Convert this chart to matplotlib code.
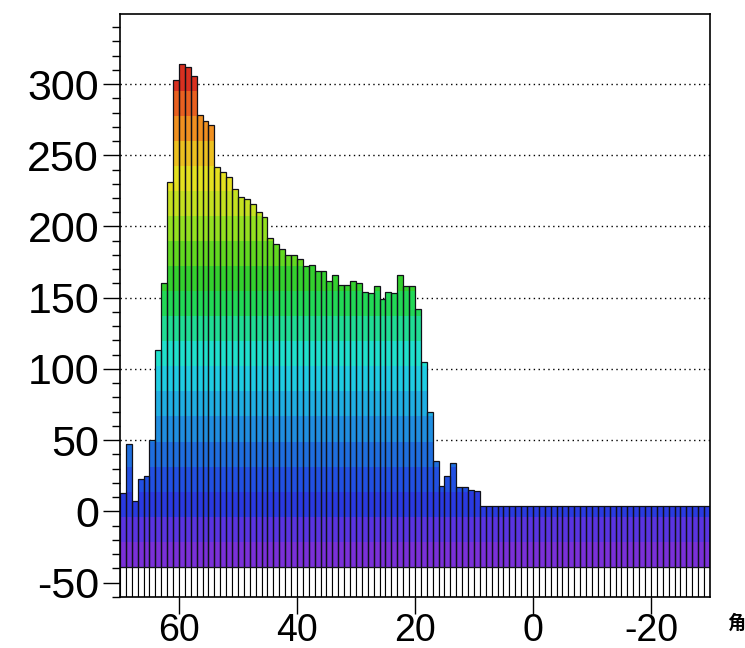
import matplotlib
matplotlib.use("Agg")
import matplotlib.pyplot as plt
import numpy as np

# bin contents, first bin is 69..70, last is -30..-29
counts = [13, 47, 7, 23, 25, 50, 113, 160, 231, 303,
          314, 312, 306, 278, 274, 271, 242, 238, 235, 226,
          221, 219, 216, 210, 207, 192, 188, 184, 180, 180,
          177, 172, 173, 169, 169, 162, 166, 159, 159, 162,
          160, 154, 153, 158, 149, 154, 153, 166, 158, 158,
          142, 105, 70, 35, 18, 25, 34, 17, 17, 15,
          14, 4, 4, 4, 4, 4, 4, 4, 4, 4,
          4, 4, 4, 4, 4, 4, 4, 4, 4, 4,
          4, 4, 4, 4, 4, 4, 4, 4, 4, 4,
          4, 4, 4, 4, 4, 4, 4, 4, 4, 4]
x_low, x_high = -30, 70
base = -39.0
level_step = 17.6
band_colors = ['#7a30d8', '#5a34e0', '#2a3ae0', '#2250e2', '#1f6ede',
               '#208ee0', '#20aee2', '#20cce2', '#20e0cc', '#20dc94',
               '#22d856', '#34d02e', '#62d820', '#94e020', '#c4e020',
               '#e4e020', '#ecc020', '#f09020', '#e86020', '#d83020']
x_ticks = [60, 40, 20, 0, -20]
y_ticks = [-50, 0, 50, 100, 150, 200, 250, 300]

centers = np.arange(x_high - 0.5, x_low, -1.0)
levels = base + level_step * np.arange(len(band_colors) + 1)

fig = plt.figure(figsize=(7.45, 6.48), dpi=100)
ax = fig.add_axes([0.161, 0.079, 0.792, 0.899])
ymin, ymax = -60, 349

# white strip under the coloured part
ax.bar(centers, base - ymin, bottom=ymin, width=1.0, color='white',
       edgecolor='black', linewidth=0.8, zorder=2)

# colour bands inside each bar
for k, col in enumerate(band_colors):
    lo, hi = levels[k], levels[k + 1]
    if k == len(band_colors) - 1:
        hi = 1000
    h = np.clip(np.array(counts) - lo, 0, hi - lo)
    ax.bar(centers, h, bottom=lo, width=1.0, color=col, edgecolor='none',
           linewidth=0, zorder=2)

# outlines
ax.bar(centers, np.array(counts) - base, bottom=base, width=1.0, fill=False,
       edgecolor='#101018', linewidth=0.9, zorder=3)

ax.set_xlim(x_high, x_low)
ax.set_ylim(ymin, ymax)
ax.set_xticks(x_ticks)
ax.set_yticks(y_ticks)
ax.set_yticks(np.arange(-60, 350, 10), minor=True)
ax.set_xticklabels([str(t) for t in x_ticks], family='Liberation Sans', fontsize=27)
ax.set_yticklabels([str(t) for t in y_ticks], family='Liberation Sans', fontsize=31)
ax.tick_params(axis='y', which='major', direction='out', length=12, width=1, pad=3)
ax.tick_params(axis='y', which='minor', direction='out', length=6, width=1)
ax.tick_params(axis='x', which='major', direction='out', length=12, width=1, pad=0)
ax.set_axisbelow(True)
ax.grid(axis='y', which='major', color='black', linestyle=(0, (1, 2.5)), linewidth=1, zorder=0)
for s in ax.spines.values():
    s.set_linewidth(1.2)
    s.set_zorder(4)

fig.text(0.9765, 0.038, '角', fontsize=13, fontweight='bold',
         family=['Noto Sans CJK SC', 'DejaVu Sans'], va='center', ha='left')

fig.savefig('out.png', dpi=100)
